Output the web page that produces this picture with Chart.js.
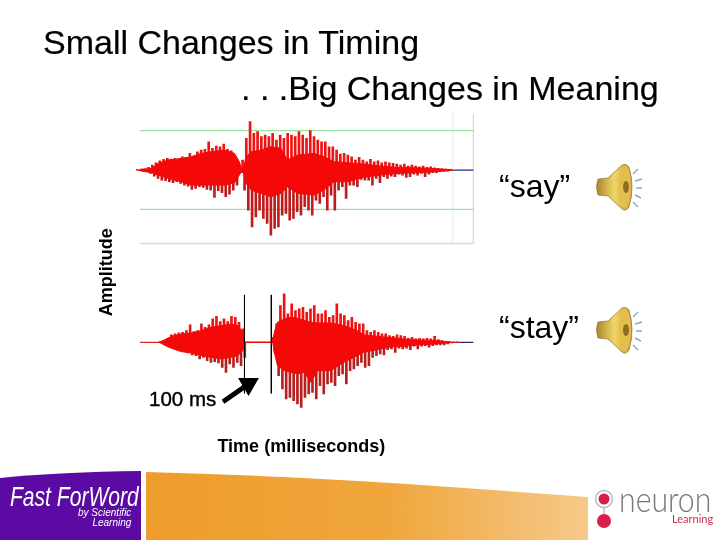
<!DOCTYPE html>
<html><head><meta charset="utf-8">
<style>
html,body{margin:0;padding:0;background:#fff;width:720px;height:540px;overflow:hidden}
.t{position:absolute;white-space:nowrap;font-family:"Liberation Sans",Arial,sans-serif;color:#000;line-height:1;transform-origin:left top}
canvas{position:absolute;left:0;top:0}
svg{position:absolute;left:0;top:0}
</style>
<script src="https://cdn.jsdelivr.net/npm/chart.js@4"></script>
</head><body>
<svg width="720" height="540" viewBox="0 0 720 540">
<defs>
<linearGradient id="org" x1="0" x2="1" y1="0" y2="0"><stop offset="0" stop-color="#ee9c2c"/><stop offset=".55" stop-color="#f0a63c"/><stop offset="1" stop-color="#f6c98a"/></linearGradient>
<linearGradient id="spk" x1="0" x2="1" y1="0" y2="0"><stop offset="0" stop-color="#a9852a"/><stop offset=".5" stop-color="#f2d568"/><stop offset="1" stop-color="#c79a2c"/></linearGradient>
<g id="speaker">
<path d="M0 15 L10 14 L24 1 Q28 -1 31 3 Q37 23 31 43 Q28 48 24 45 L10 32 L0 31 Q-3 23 0 15Z" fill="url(#spk)" stroke="#8f7430" stroke-width=".7"/>
<ellipse cx="27" cy="23" rx="6" ry="21" fill="#e2be4c"/>
<ellipse cx="28" cy="23" rx="3" ry="6" fill="#8a6d26"/>
<path d="M35 10 L40 5 M37 17 L44 15 M38 24 L44 24 M37 31 L43 34 M35 38 L40 43" stroke="#8fa6c8" stroke-width="1.4" fill="none"/>
</g>
</defs>
<path d="M0 478 Q60 472 141 471 L141 540 L0 540Z" fill="#5b0ba3"/>
<path d="M146 472 Q300 476 450 487 L588 497 L588 540 L146 540Z" fill="url(#org)"/>
<use href="#speaker" x="598" y="164"/>
<use href="#speaker" x="598" y="307"/>
<line x1="604" y1="499" x2="604" y2="520" stroke="#b8b8b8" stroke-width="1.5"/>
<circle cx="604" cy="499" r="8.5" fill="#fff" stroke="#bcbcbc" stroke-width="1.5"/>
<circle cx="604" cy="499" r="5.5" fill="#d81e4a"/>
<circle cx="604" cy="521" r="7" fill="#d81e4a"/>
</svg>
<canvas id="c" width="720" height="540"></canvas>
<div class="t" style="left:43px;top:25px;font-size:34px;-webkit-text-stroke:.2px #000">Small Changes in Timing</div>
<div class="t" style="left:241px;top:71px;font-size:34px;-webkit-text-stroke:.2px #000">. . .Big Changes in Meaning</div>
<div class="t" style="left:499px;top:170px;font-size:32px">“say”</div>
<div class="t" style="left:499px;top:311px;font-size:32px">“stay”</div>
<div class="t" style="left:149px;top:389px;font-size:20.5px;-webkit-text-stroke:.4px #000">100 ms</div>
<div class="t" style="left:10px;top:484px;font-size:27px;font-style:italic;color:#fff;transform:scaleX(.78)">Fast ForWord</div>
<div class="t" style="left:78px;top:508px;font-size:10px;color:#fff;font-style:italic;text-align:right;line-height:10px">by Scientific<br>Learning</div>
<div class="t" style="left:619px;top:480px;font-size:36px;color:#777;font-family:Lato,sans-serif;font-weight:300;transform:scaleX(.84)">neuron</div>
<div class="t" style="left:672px;top:513px;font-size:11px;color:#c8324e;font-family:Lato,sans-serif">Learning</div>
<script>
// Time samples in milliseconds (100 ms = gap marked between the black lines)
const sayTimes = [47,61,75,89,103,117,131,145,159,173,187,201,215,229,243,257,271,285,299,313,327,341,355,369,383,397,411,425,439,453,467,481,495,509,523,537,551,565,579,593,607,621,635,649,663,677,691,705,719,733,747,761,775,789,803,817,831,845,859,873,887,901,915,929,943,957,971,985,999,1013,1027,1041,1055,1069,1083,1097,1111,1125,1139,1153,1167,1181,1195,1209];
const sayPeaks = [2,3,4,8,15,22,28,32,35,33,35,32,40,38,50,42,55,60,62,85,65,72,70,78,62,58,40,8,30,95,145,110,115,100,105,100,110,90,105,95,110,105,100,115,105,95,118,100,90,85,85,70,70,60,48,50,45,40,30,38,30,25,32,25,28,22,25,22,20,18,15,18,12,15,12,10,12,8,10,7,5,4,3,2];
const sayTroughs = [-2,-3,-4,-10,-18,-25,-30,-32,-35,-38,-35,-40,-45,-48,-58,-55,-50,-52,-58,-60,-82,-62,-68,-80,-72,-60,-45,-8,-60,-120,-170,-140,-120,-145,-160,-195,-175,-170,-135,-130,-150,-145,-125,-135,-110,-120,-135,-90,-100,-80,-120,-75,-120,-60,-50,-85,-45,-45,-50,-28,-30,-30,-45,-25,-38,-20,-25,-18,-20,-12,-15,-22,-20,-12,-15,-10,-20,-12,-8,-8,-5,-4,-3,-2];
const sayCoreTimes = [46,89,114,151,200,237,274,311,361,398,416,423,432,441,460,497,534,571,595,633,694,731,768,818,879,941,1003,1065,1127,1188,1207];
const sayCoreUpper = [2,5,20,30,35,40,50,55,60,50,25,5,10,40,55,60,70,65,30,45,50,40,25,22,18,12,8,7,5,2,1];
const sayCoreLower = [-2,-8,-15,-25,-35,-45,-45,-45,-45,-38,-15,-5,-10,-40,-60,-70,-80,-70,-50,-70,-75,-60,-35,-35,-22,-15,-10,-8,-6,-2,-1];

const stayTimes = [117,131,145,159,173,187,201,215,229,243,257,271,285,299,313,327,341,355,369,383,397,411,425,537,551,565,579,593,607,621,635,649,663,677,691,705,719,733,747,761,775,789,803,817,831,845,859,873,887,901,915,929,943,957,971,985,999,1013,1027,1041,1055,1069,1083,1097,1111,1125,1139,1153,1167,1181,1195,1209,1223];
const stayPeaks = [2,4,12,22,25,28,30,35,52,32,35,55,45,52,70,78,62,70,62,78,75,60,40,15,55,110,145,85,115,95,100,105,90,100,110,85,85,95,75,80,115,85,80,65,75,60,55,55,35,30,35,30,25,25,20,18,22,20,18,12,15,10,12,10,12,10,18,8,5,3,2,1,1];
const stayTroughs = [-2,-5,-12,-18,-22,-25,-28,-32,-38,-40,-50,-45,-55,-60,-58,-62,-75,-90,-65,-75,-60,-70,-45,-30,-100,-140,-170,-165,-175,-185,-195,-165,-155,-150,-170,-130,-155,-125,-120,-130,-100,-95,-125,-85,-80,-70,-60,-75,-70,-45,-40,-35,-38,-22,-20,-30,-18,-20,-18,-22,-12,-20,-12,-10,-15,-10,-8,-8,-8,-5,-2,-1,-1];
const stayCoreTimes = [120,145,163,200,237,274,311,348,386,410,429,435,540,546,558,583,608,633,657,682,707,756,805,855,879,929,978,1028,1077,1127,1176,1201];
const stayCoreUpper = [1,10,18,25,28,35,45,50,55,50,30,0,0,30,60,70,75,72,66,60,58,58,50,35,22,18,14,10,7,6,3,1];
const stayCoreLower = [-1,-12,-18,-28,-32,-40,-45,-50,-45,-40,-25,0,0,-30,-70,-85,-90,-95,-90,-120,-85,-85,-60,-40,-30,-22,-14,-12,-8,-6,-3,-1];

const traceStartMs = 46, sayEndMs = 1207, stayEndMs = 1225, frameEndMs = 1287, faintFrameMs = 1210;
const greenLevels = [118,-118];
const frameFloor = -220, frameTop = 168, faintTop = 180;
const gapMarksMs = [435,535];
const gapMarkRange = [142,-153];
const arrowTimes = [355,450];
const arrowAmps = [-178,-125];

const xy = (xs, ys) => xs.map((x,i) => ({x, y: ys[i]}));
const RED = '#f40808';
const line = (data, axis, color, width, order) => ({type:'scatter', showLine:true, data, yAxisID:axis, borderColor:color, borderWidth:width, pointRadius:0, order, fill:false, tension:0});
const bars = (xs, ys, axis, color, order) => ({type:'bar', data:xs.map((x,i)=>({x, y:[0, ys[i]]})), yAxisID:axis, backgroundColor:color, barThickness:2, order, borderWidth:0});
const core = (xs, up, lo, axis, order) => [
  Object.assign(line(xy(xs,up),axis,RED,1,order),{fill:'+1',backgroundColor:RED}),
  line(xy(xs,lo),axis,RED,1,order)
];
const flat = (a,b,v,axis,color,w,order) => line([{x:a,y:v},{x:b,y:v}],axis,color,w,order);

const datasets = [
  flat(traceStartMs,frameEndMs,greenLevels[0],'y','#9be39b',1.3,9),
  flat(traceStartMs,frameEndMs,greenLevels[1],'y','#9be39b',1.3,9),
  flat(traceStartMs,frameEndMs,frameFloor,'y','#c9e0e2',1.3,9),
  line([{x:frameEndMs,y:frameTop},{x:frameEndMs,y:frameFloor}],'y','#c9e0e2',1.3,9),
  line([{x:faintFrameMs,y:faintTop},{x:faintFrameMs,y:frameFloor}],'y','#eef3f4',1,9),
  flat(sayEndMs,frameEndMs,0,'y','#2a2a80',1.2,8),
  flat(traceStartMs,sayEndMs,0,'y',RED,1.2,8),
  bars(sayTimes,sayPeaks,'y','#ee1414',7),
  bars(sayTimes,sayTroughs,'y','#c01c1c',7),
  ...core(sayCoreTimes,sayCoreUpper,sayCoreLower,'y',6),
  flat(stayEndMs,frameEndMs,0,'y2','#2a2a80',1.2,8),
  flat(traceStartMs,stayEndMs,0,'y2','#e02020',1.2,8),
  bars(stayTimes,stayPeaks,'y2','#ee1414',7),
  bars(stayTimes,stayTroughs,'y2','#b82020',7),
  ...core(stayCoreTimes,stayCoreUpper,stayCoreLower,'y2',6),
  line([{x:gapMarksMs[0],y:gapMarkRange[0]},{x:gapMarksMs[0],y:gapMarkRange[1]}],'y2','#000',1,3),
  line([{x:gapMarksMs[1],y:gapMarkRange[0]},{x:gapMarksMs[1],y:gapMarkRange[1]}],'y2','#000',1,3),
  Object.assign(line(xy(arrowTimes,arrowAmps),'y2','#000',5,2),{pointRadius:[0,7],pointStyle:'triangle',pointRotation:60,pointBackgroundColor:'#000',pointBorderColor:'#000'})
];

const axisFont = {family:'"Liberation Sans",Arial,sans-serif',size:18,weight:'bold'};
new Chart(document.getElementById('c'),{
  data:{datasets},
  options:{
    responsive:false,animation:false,devicePixelRatio:1,
    layout:{padding:{left:96,top:110,right:245,bottom:82}},
    plugins:{legend:{display:false},tooltip:{enabled:false},title:{display:false}},
    scales:{
      x:{type:'linear',offset:false,min:0,max:1293,grid:{display:false,drawTicks:false},border:{display:false},ticks:{display:false},
         title:{display:true,text:'Time (milliseconds)',color:'#000',font:axisFont,padding:{top:2,bottom:0}}},
      y:{type:'linear',position:'left',min:-792,max:180,grid:{display:false,drawTicks:false},border:{display:false},ticks:{display:false},
         title:{display:true,text:'Amplitude',color:'#000',font:axisFont,padding:{top:0,bottom:10}}},
      y2:{type:'linear',display:false,min:-276,max:696}
    }
  }
});
</script>
</body></html>
